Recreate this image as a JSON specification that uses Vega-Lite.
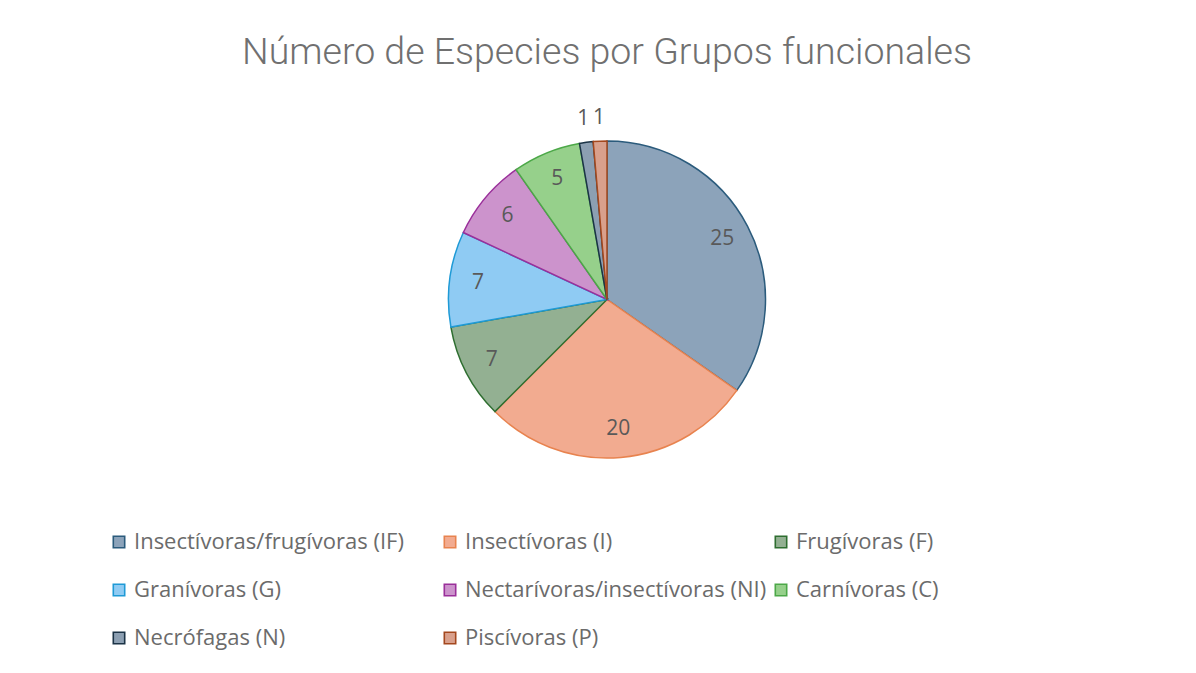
{
  "$schema": "https://vega.github.io/schema/vega-lite/v6.json",
  "autosize": {"type": "none"},
  "width": 317,
  "height": 317,
  "padding": {"left": 448.5, "right": 430.5, "top": 141, "bottom": 215},
  "background": "white",
  "title": {
    "text": "Número de Especies por Grupos funcionales",
    "font": "Roboto",
    "fontWeight": 300,
    "fontSize": 37.5,
    "color": "#707070",
    "anchor": "middle",
    "offset": 35
  },
  "data": {
    "values": [
      {"group": "Insectívoras/frugívoras (IF)", "value": 25, "idx": 1},
      {"group": "Insectívoras (I)", "value": 20, "idx": 2},
      {"group": "Frugívoras (F)", "value": 7, "idx": 3},
      {"group": "Granívoras (G)", "value": 7, "idx": 4},
      {"group": "Nectarívoras/insectívoras (NI)", "value": 6, "idx": 5},
      {"group": "Carnívoras (C)", "value": 5, "idx": 6},
      {"group": "Necrófagas (N)", "value": 1, "idx": 7},
      {"group": "Piscívoras (P)", "value": 1, "idx": 8}
    ]
  },
  "encoding": {
    "theta": {"field": "value", "type": "quantitative", "stack": true},
    "order": {"field": "idx", "type": "quantitative"}
  },
  "layer": [
    {
      "mark": {"type": "arc", "strokeWidth": 1.5},
      "encoding": {
        "color": {
          "field": "group",
          "type": "nominal",
          "title": null,
          "sort": {"field": "idx"},
          "scale": {
            "domain": ["Insectívoras/frugívoras (IF)", "Insectívoras (I)", "Frugívoras (F)", "Granívoras (G)", "Nectarívoras/insectívoras (NI)", "Carnívoras (C)", "Necrófagas (N)", "Piscívoras (P)"],
            "range": ["#8ca3ba", "#f2ab90", "#93b092", "#8fcbf3", "#cc93cc", "#96d08b", "#8c9fb2", "#d9a08c"]
          },
          "legend": {
            "orient": "none",
            "legendX": -340.5,
            "legendY": 390,
            "direction": "horizontal",
            "columns": 3,
            "gridAlign": "all",
            "columnPadding": 3,
            "rowPadding": 26,
            "symbolType": "square",
            "symbolSize": 130,
            "symbolStrokeWidth": 1.6,
            "symbolOpacity": 1,
            "labelFont": "Open Sans",
            "labelFontSize": 22,
            "labelColor": "#6b6b6b",
            "labelOffset": 4,
            "labelLimit": 400
          }
        },
        "stroke": {
          "field": "group",
          "type": "nominal",
          "title": null,
          "sort": {"field": "idx"},
          "scale": {
            "domain": ["Insectívoras/frugívoras (IF)", "Insectívoras (I)", "Frugívoras (F)", "Granívoras (G)", "Nectarívoras/insectívoras (NI)", "Carnívoras (C)", "Necrófagas (N)", "Piscívoras (P)"],
            "range": ["#2b5b7c", "#e8834f", "#2e6e30", "#1f9ad6", "#9a2f9a", "#4ca848", "#1b3346", "#a4481e"]
          }
        }
      }
    },
    {
      "mark": {"type": "text", "radius": 130, "font": "Open Sans", "fontSize": 21, "color": "#595959"},
      "encoding": {"text": {"condition": {"test": "datum.value <= 1", "value": ""}, "field": "value", "type": "quantitative"}}
    },
    {
      "mark": {"type": "text", "radius": 182, "font": "Open Sans", "fontSize": 21, "color": "#595959"},
      "encoding": {"text": {"condition": {"test": "datum.value > 1", "value": ""}, "field": "value", "type": "quantitative"}}
    }
  ],
  "config": {"view": {"stroke": null}}
}
